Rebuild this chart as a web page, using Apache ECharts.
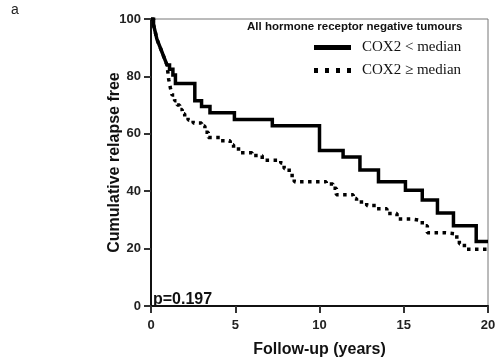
<!DOCTYPE html>
<html>
<head>
<meta charset="utf-8">
<script src="https://cdn.jsdelivr.net/npm/echarts@6/dist/echarts.min.js"></script>
<style>
  html, body { margin: 0; padding: 0; background: #fff; }
  #chart { width: 502px; height: 363px; }
</style>
</head>
<body>
<div id="chart"></div>
<script>
// follow-up time (years) and survival (%) after each drop
const lowTimes = [0, 0.15, 0.25, 0.35, 0.45, 0.55, 0.65, 0.75, 0.85, 0.95, 1.1, 1.3, 1.45, 2.6, 3.0, 3.5, 4.95, 7.2, 10.0, 11.4, 12.4, 13.5, 15.1, 16.1, 17.0, 17.95, 19.3, 20];
const lowValues = [100, 98, 95.5, 93, 91.5, 90, 88.5, 87, 85.5, 84, 82.5, 80.5, 77.5, 71.5, 69.5, 67.3, 65, 62.8, 54.2, 51.9, 47.4, 43.3, 40.3, 36.9, 32.4, 28, 22.5, 22.5];

const highTimes = [0, 0.15, 0.25, 0.35, 0.45, 0.55, 0.65, 0.75, 0.85, 0.95, 1.05, 1.15, 1.25, 1.4, 1.55, 1.7, 1.85, 2.0, 2.2, 2.5, 3.0, 3.2, 3.4, 4.1, 4.7, 4.9, 5.3, 6.0, 6.6, 7.7, 7.9, 8.2, 8.5, 10.4, 10.8, 11.0, 12.0, 12.2, 12.8, 13.4, 14.0, 14.6, 15.5, 16.1, 16.4, 17.5, 18.0, 18.3, 18.6, 20];
const highValues = [100, 98, 95.5, 93, 91.5, 90, 88.5, 87, 85.5, 84, 79, 76, 73.5, 71.5, 70, 68.5, 67, 65.8, 64.8, 63.8, 62.7, 60.5, 58.7, 57.6, 56.2, 54.7, 53.4, 52.4, 50.8, 49.8, 47.9, 45.5, 43.3, 42.5, 41, 38.8, 37.5, 36.2, 35, 33.9, 32.2, 30.3, 29.7, 28, 25.5, 25.2, 24, 21.7, 19.8, 19.8];

const seriesNames = ["COX2 < median", "COX2 \u2265 median"];
const xTicks = { min: 0, max: 20, interval: 5 };
const yTicks = { min: 0, max: 100, interval: 20 };

function pairs(xs, ys) {
  return xs.map((x, i) => [x, ys[i]]);
}

const chart = echarts.init(document.getElementById("chart"));

const sans = "Liberation Sans, Arial";
const boldLabel = {
  fontFamily: sans,
  fontWeight: "bold",
  fontSize: 13,
  color: "#222",
};
const axisName = {
  fontFamily: sans,
  fontWeight: "bold",
  fontSize: 16,
  color: "#111",
};
// ticks sit outside the axis, like the original figure
const tickStyle = { show: true, inside: false, length: 7, lineStyle: { color: "#333", width: 2 } };

chart.setOption({
  animation: false,
  title: {
    text: "All hormone receptor negative tumours",
    left: 247,
    top: 21,
    padding: 0,
    textStyle: {
      fontFamily: sans,
      fontWeight: "bold",
      fontSize: 11.5,
      color: "#111",
    },
  },
  legend: {
    orient: "vertical",
    left: 314,
    top: 40,
    padding: 0,
    itemWidth: 37,
    itemHeight: 5,
    itemGap: 8,
    symbolKeepAspect: false,
    data: [
      { name: seriesNames[0], icon: "rect" },
      {
        name: seriesNames[1],
        icon: "path://M0,0h4v4h-4z M11,0h4v4h-4z M22,0h4v4h-4z M33,0h4v4h-4z",
      },
    ],
    itemStyle: { color: "#000" },
    lineStyle: { width: 0 },
    textStyle: {
      fontFamily: "Liberation Serif, Times New Roman",
      fontSize: 15,
      color: "#111",
      padding: [0, 0, 0, 6],
    },
  },
  grid: {
    left: 151,
    right: 14,
    top: 19,
    bottom: 51,
    show: true,
    borderColor: "#777",
    borderWidth: 1,
  },
  xAxis: {
    type: "value",
    min: xTicks.min,
    max: xTicks.max,
    interval: xTicks.interval,
    name: "Follow-up (years)",
    nameLocation: "middle",
    nameGap: 36,
    nameMoveOverlap: false,
    nameTextStyle: axisName,
    axisLine: { show: true, lineStyle: { color: "#111", width: 2 } },
    axisTick: tickStyle,
    axisLabel: Object.assign({ margin: 13 }, boldLabel),
    splitLine: { show: false },
  },
  yAxis: {
    type: "value",
    min: yTicks.min,
    max: yTicks.max,
    interval: yTicks.interval,
    name: "Cumulative relapse free",
    nameLocation: "middle",
    nameGap: 28,
    nameMoveOverlap: false,
    nameTextStyle: axisName,
    axisLine: { show: true, lineStyle: { color: "#111", width: 2 } },
    axisTick: tickStyle,
    axisLabel: Object.assign({ margin: 10 }, boldLabel),
    splitLine: { show: false },
  },
  graphic: [
    {
      type: "text",
      left: 11,
      top: 3,
      style: {
        text: "a",
        font: "14px Liberation Sans, Arial",
        fill: "#222",
      },
    },
    {
      type: "text",
      left: 153,
      top: 292,
      style: {
        text: "p=0.197",
        font: "bold 16px Liberation Sans, Arial",
        fill: "#111",
      },
    },
  ],
  series: [
    {
      name: seriesNames[0],
      type: "line",
      step: "end",
      data: pairs(lowTimes, lowValues),
      showSymbol: false,
      symbol: "none",
      lineStyle: { color: "#000", width: 3.5, cap: "butt", join: "miter" },
      itemStyle: { color: "#000" },
      z: 3,
    },
    {
      name: seriesNames[1],
      type: "line",
      step: "end",
      data: pairs(highTimes, highValues),
      showSymbol: false,
      symbol: "none",
      lineStyle: { color: "#000", width: 3.5, type: [3.5, 4.5], cap: "butt" },
      itemStyle: { color: "#000" },
      z: 2,
    },
  ],
});

window.addEventListener("resize", () => {
  chart.resize();
});
</script>
</body>
</html>
